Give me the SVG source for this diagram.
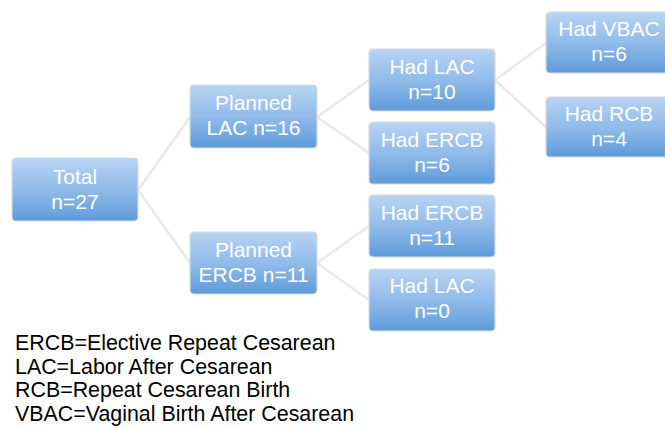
<svg xmlns="http://www.w3.org/2000/svg" width="665" height="429" viewBox="0 0 665 429">
<defs>
<linearGradient id="g" x1="0" y1="0" x2="0" y2="1">
<stop offset="0" stop-color="#b8d4f3"/>
<stop offset="0.5" stop-color="#91bbea"/>
<stop offset="1" stop-color="#5e9bd9"/>
</linearGradient>
<style>
.box{fill:url(#g);stroke:#d9dbdf;stroke-width:1.2}
.t{font-family:"Liberation Sans",Arial,sans-serif;font-size:21px;fill:#ffffff;text-anchor:middle}
.c line{stroke:#e9e9e9;stroke-width:2.5;fill:none}
.leg{font-family:"Liberation Sans",Arial,sans-serif;font-size:21.4px;fill:#000000}
</style>
</defs>
<rect width="665" height="429" fill="#ffffff"/>
<g class="c" id="connectors">
<line x1="138" y1="190" x2="190" y2="117"/>
<line x1="138" y1="190" x2="190" y2="263"/>
<line x1="317" y1="117" x2="369" y2="80"/>
<line x1="317" y1="117" x2="369" y2="153"/>
<line x1="495" y1="80" x2="546" y2="43"/>
<line x1="495" y1="80" x2="546" y2="127"/>
<line x1="317" y1="263" x2="369" y2="226"/>
<line x1="317" y1="263" x2="369" y2="300"/>
</g>
<g id="total"><rect class="box" x="12" y="158" width="126" height="63" rx="4"/><text class="t" x="75" y="184">Total</text><text class="t" x="75" y="208.5">n=27</text></g>
<g id="plannedLAC"><rect class="box" x="190" y="85" width="127" height="63" rx="4"/><text class="t" x="253.5" y="110">Planned</text><text class="t" x="253.5" y="135">LAC n=16</text></g>
<g id="plannedERCB"><rect class="box" x="190" y="232" width="127" height="62" rx="4"/><text class="t" x="253.5" y="257">Planned</text><text class="t" x="253.5" y="282">ERCB n=11</text></g>
<g id="hadLAC10"><rect class="box" x="369" y="49" width="126" height="62" rx="4"/><text class="t" x="432" y="74">Had LAC</text><text class="t" x="432" y="99">n=10</text></g>
<g id="hadERCB6"><rect class="box" x="369" y="122" width="126" height="62" rx="4"/><text class="t" x="432" y="147">Had ERCB</text><text class="t" x="432" y="172">n=6</text></g>
<g id="hadERCB11"><rect class="box" x="369" y="195" width="126" height="62" rx="4"/><text class="t" x="432" y="219.5">Had ERCB</text><text class="t" x="432" y="245">n=11</text></g>
<g id="hadLAC0"><rect class="box" x="369" y="269" width="126" height="62" rx="4"/><text class="t" x="432" y="293">Had LAC</text><text class="t" x="432" y="318">n=0</text></g>
<g id="hadVBAC"><rect class="box" x="546" y="12" width="126" height="61" rx="4"/><text class="t" x="609" y="36">Had VBAC</text><text class="t" x="609" y="61">n=6</text></g>
<g id="hadRCB"><rect class="box" x="546" y="97" width="126" height="60" rx="4"/><text class="t" x="609" y="121">Had RCB</text><text class="t" x="609" y="146">n=4</text></g>
<g id="legend">
<text class="leg" x="15" y="350">ERCB=Elective Repeat Cesarean</text>
<text class="leg" x="15" y="374">LAC=Labor After Cesarean</text>
<text class="leg" x="15" y="397">RCB=Repeat Cesarean Birth</text>
<text class="leg" x="15" y="421">VBAC=Vaginal Birth After Cesarean</text>
</g>
</svg>
